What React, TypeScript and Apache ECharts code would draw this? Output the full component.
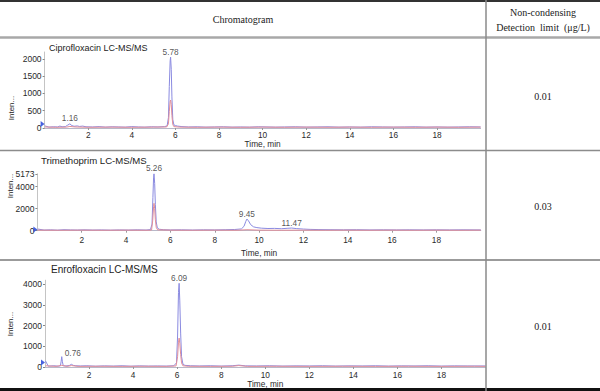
import React, { useEffect, useRef } from "react";
import * as echarts from "echarts";

// ---------- data ----------
const panelTitles = ["Ciprofloxacin LC-MS/MS", "Trimethoprim LC-MS/MS", "Enrofloxacin LC-MS/MS"];
const detectionLimits = ["0.01", "0.03", "0.01"];
const headerLeft = "Chromatogram";
const headerRight1 = "Non-condensing";
const headerRight2 = "Detection  limit  (\u03bcg/L)";
const xAxisName = "Time, min";
const yAxisName = "Inten...";

const ciproBlue: [number, number][] = [
  [0.02, 60], [0.2, 25], [0.4, 35], [0.6, 30], [0.7, 55], [0.8, 35], [0.95, 40], [1.05, 80], [1.16, 120],
  [1.25, 70], [1.35, 50], [1.5, 60], [1.6, 45], [1.75, 55], [1.9, 35], [2.2, 30], [2.5, 40], [2.8, 25],
  [3.1, 35], [3.4, 30], [3.7, 25], [4.0, 40], [4.3, 30], [4.6, 25], [4.9, 35], [5.2, 30], [5.5, 40],
  [5.62, 60], [5.68, 300], [5.72, 1200], [5.76, 1950], [5.78, 2050], [5.81, 1700], [5.84, 900], [5.88, 250],
  [5.93, 90], [6.0, 70], [6.1, 55], [6.3, 40], [6.6, 30], [7.0, 35], [7.4, 25], [7.8, 30], [8.2, 35],
  [8.6, 25], [9.0, 30], [9.4, 25], [9.8, 35], [10.2, 30], [10.6, 25], [11.0, 30], [11.5, 35], [12.0, 25],
  [12.5, 30], [13.0, 35], [13.5, 25], [14.0, 30], [14.5, 25], [15.0, 35], [15.5, 30], [16.0, 25], [16.5, 30],
  [17.0, 35], [17.5, 25], [18.0, 30], [18.5, 25], [19.0, 30], [19.5, 35], [20.0, 30],
];
const ciproRed: [number, number][] = [
  [0.02, 30], [0.5, 20], [1.0, 25], [1.16, 45], [1.4, 30], [2.0, 20], [3.0, 25], [4.0, 20], [5.0, 25],
  [5.6, 30], [5.68, 120], [5.72, 480], [5.76, 770], [5.78, 810], [5.81, 680], [5.84, 360], [5.88, 100],
  [5.93, 40], [6.2, 25], [7.0, 20], [8.0, 25], [9.0, 20], [10.0, 25], [11.0, 20], [12.0, 25], [13, 20],
  [14, 25], [15, 20], [16, 25], [17, 20], [18, 25], [19, 20], [20, 25],
];
const ciproPeaks: [number, number][] = [[1.16, 120], [5.78, 2050]];

const trimBlue: [number, number][] = [
  [0.02, 150], [0.3, 60], [0.6, 80], [0.9, 50], [1.2, 90], [1.5, 70], [1.8, 60], [2.1, 80], [2.5, 60],
  [2.9, 70], [3.3, 50], [3.7, 70], [4.1, 60], [4.5, 80], [4.9, 60], [5.1, 100], [5.17, 600], [5.21, 3000],
  [5.24, 4800], [5.26, 5173], [5.29, 4300], [5.32, 2400], [5.36, 800], [5.41, 250], [5.5, 130], [5.7, 90],
  [6.0, 70], [6.5, 80], [7.0, 60], [7.5, 80], [8.0, 70], [8.5, 90], [8.9, 110], [9.2, 160], [9.32, 400],
  [9.4, 850], [9.45, 1060], [9.52, 900], [9.62, 550], [9.75, 350], [9.9, 280], [10.1, 230], [10.4, 200],
  [10.7, 210], [11.0, 180], [11.3, 220], [11.47, 240], [11.7, 190], [12.0, 150], [12.3, 120], [12.7, 100],
  [13.2, 90], [13.8, 80], [14.4, 90], [15.0, 70], [15.6, 80], [16.2, 70], [16.8, 80], [17.4, 70], [18.0, 80],
  [18.6, 70], [19.2, 80], [20.0, 70],
];
const trimRed: [number, number][] = [
  [0.02, 50], [1, 40], [2, 50], [3, 40], [4, 50], [5, 40], [5.15, 60], [5.2, 900], [5.24, 2200], [5.26, 2490],
  [5.29, 2000], [5.32, 1000], [5.36, 300], [5.42, 80], [6, 50], [7, 40], [8, 50], [9, 40], [9.45, 90],
  [10, 50], [11, 40], [12, 50], [13, 40], [14, 50], [15, 40], [16, 50], [17, 40], [18, 50], [19, 40], [20, 50],
];
const trimPeaks: [number, number][] = [[5.26, 5173], [9.45, 1060], [11.47, 240]];

const enroBlue: [number, number][] = [
  [0.02, 300], [0.15, 40], [0.4, 60], [0.6, 40], [0.7, 60], [0.73, 250], [0.76, 500], [0.79, 250], [0.83, 60],
  [0.95, 50], [1.1, 70], [1.2, 130], [1.28, 80], [1.4, 60], [1.6, 50], [1.9, 60], [2.3, 40], [2.7, 55],
  [3.1, 45], [3.5, 60], [3.9, 40], [4.3, 55], [4.7, 45], [5.1, 50], [5.5, 45], [5.85, 60], [5.97, 200],
  [6.02, 1500], [6.06, 3600], [6.09, 4050], [6.12, 3200], [6.16, 1600], [6.2, 500], [6.26, 150], [6.35, 80],
  [6.6, 60], [7.0, 50], [7.5, 60], [8.0, 45], [8.5, 60], [8.8, 90], [9.1, 55], [9.6, 50], [10.2, 60],
  [10.8, 45], [11.4, 55], [12.0, 50], [12.6, 60], [13.2, 45], [13.8, 55], [14.4, 50], [15.0, 60], [15.6, 45],
  [16.2, 55], [16.8, 50], [17.4, 60], [18.0, 45], [18.6, 55], [19.2, 50], [20.0, 50],
];
const enroRed: [number, number][] = [
  [0.02, 60], [0.5, 30], [0.76, 80], [1.0, 30], [1.2, 70], [1.5, 30], [2.5, 35], [3.5, 30], [4.5, 35],
  [5.5, 30], [5.95, 50], [6.02, 500], [6.06, 1200], [6.09, 1400], [6.12, 1150], [6.16, 600], [6.2, 200],
  [6.26, 60], [6.5, 35], [7.5, 30], [8.5, 35], [8.8, 70], [9.2, 30], [10.5, 35], [12, 30], [13.5, 35],
  [15, 30], [16.5, 35], [18, 30], [19.5, 35], [20, 30],
];
const enroPeaks: [number, number][] = [[0.76, 500], [6.09, 4050]];

// start-marker (blue arrow) positions [time, intensity]
const startMarkers: [number, number][][] = [[[0, 115]], [[0, 100]], [[0, 220]]];

// axis settings per panel
const yMax = [2200, 5173, 4200];
const yInterval = [500, 2000, 1000];
const xMin = 0;
const xMax = 20;
const xInterval = 2;

// ---------- layout ----------
const NARROW = "'Liberation Sans Narrow', 'Arial Narrow', 'Liberation Sans', Arial, sans-serif";
const SANS = "'Liberation Sans', Arial, sans-serif";
const SERIF = "'Liberation Serif', 'Times New Roman', serif";
const BLUE = "#8a8ae0";
const RED = "#e28e98";

const grids = [
  { left: 44.6, right: 119.4, top: 52, bottom: 263 },
  { left: 37.4, right: 119.2, top: 173.8, bottom: 160.3 },
  { left: 45, right: 114.5, top: 280.2, bottom: 24 },
];
const xLabelMargin = [3, 5, 4];
const xNameGap = [12, 18, 11];
const titlePos = [
  { left: 49, top: 43.5, size: 9 },
  { left: 41, top: 155, size: 9.6 },
  { left: 51, top: 264.5, size: 10 },
];
const yNamePos = [
  { x: 11, y: 108 },
  { x: 10.5, y: 186 },
  { x: 10.5, y: 324 },
];
const limitY = [96, 206, 326];

export default function App() {
  const ref = useRef<HTMLDivElement>(null);
  useEffect(() => {
    if (!ref.current) return;
    const chart = echarts.init(ref.current, undefined, { renderer: "svg" });
    const blues = [ciproBlue, trimBlue, enroBlue];
    const reds = [ciproRed, trimRed, enroRed];
    const peaks = [ciproPeaks, trimPeaks, enroPeaks];

    const xAxes = grids.map((_, i) => ({
      type: "value",
      gridIndex: i,
      min: xMin,
      max: xMax,
      interval: xInterval,
      name: xAxisName,
      nameLocation: "middle",
      nameGap: xNameGap[i],
      nameTextStyle: { fontFamily: NARROW, fontSize: 8.3, color: "#2a2a2a" },
      axisLine: { show: true, onZero: false, lineStyle: { color: "#b8b8c8", width: 1 } },
      axisTick: { show: true, length: 2, lineStyle: { color: "#999" } },
      axisLabel: {
        fontFamily: NARROW,
        fontSize: 8.3,
        color: "#2a2a2a",
        margin: xLabelMargin[i],
        showMinLabel: false,
        showMaxLabel: false,
        formatter: (v: number) => String(v),
      },
      splitLine: { show: false },
    }));
    const yAxes = grids.map((_, i) => ({
      type: "value",
      gridIndex: i,
      min: 0,
      max: yMax[i],
      interval: yInterval[i],
      axisLine: { show: true, lineStyle: { color: "#c4c4c4", width: 1 } },
      axisTick: { show: true, length: 2, lineStyle: { color: "#888" } },
      axisLabel: {
        fontFamily: NARROW,
        fontSize: 8.5,
        color: "#2a2a2a",
        margin: 3,
        showMaxLabel: i === 1,
        formatter: (v: number) => String(v),
      },
      splitLine: { show: false },
    }));

    const series: any[] = [];
    grids.forEach((_, i) => {
      series.push({
        type: "line",
        xAxisIndex: i,
        yAxisIndex: i,
        data: blues[i],
        showSymbol: false,
        symbol: "none",
        lineStyle: { color: BLUE, width: 1 },
        z: 2,
      });
      series.push({
        type: "line",
        xAxisIndex: i,
        yAxisIndex: i,
        data: reds[i],
        showSymbol: false,
        symbol: "none",
        lineStyle: { color: RED, width: 1 },
        z: 3,
      });
      series.push({
        type: "scatter",
        xAxisIndex: i,
        yAxisIndex: i,
        clip: false,
        symbolSize: 0,
        data: peaks[i].map((p, k) =>
          i === 2 && k === 0
            ? { value: p, label: { position: "right", distance: 3, offset: [0, -4] } }
            : { value: p }
        ),
        label: {
          show: true,
          position: "top",
          distance: 1.5,
          fontFamily: NARROW,
          fontSize: 8.3,
          color: "#2a2a2a",
          formatter: (d: any) => d.value[0].toFixed(2),
        },
        z: 5,
      });
      series.push({
        type: "scatter",
        xAxisIndex: i,
        yAxisIndex: i,
        clip: false,
        data: startMarkers[i],
        symbol: "triangle",
        symbolRotate: -90,
        symbolSize: [6, 4],
        symbolOffset: [-2, 0],
        itemStyle: { color: "#1a3ad6" },
        z: 6,
      });
    });

    const line = (x1: number, y1: number, x2: number, y2: number, color: string, width: number) => ({
      type: "line",
      shape: { x1, y1, x2, y2 },
      style: { stroke: color, lineWidth: width },
      silent: true,
      z: 10,
    });
    const text = (x: number, y: number, t: string, font: string, extra: any = {}) => ({
      type: "text",
      x,
      y,
      style: {
        text: t,
        font,
        fill: "#222",
        align: "center",
        verticalAlign: "middle",
        textAlign: "center",
        textVerticalAlign: "middle",
      },
      silent: true,
      z: 10,
      ...extra,
    });

    const graphic: any[] = [
      line(0, 1, 600, 1, "#333", 2),
      line(0, 37.5, 600, 37.5, "#a8a8a8", 2.5),
      line(0, 150.5, 600, 150.5, "#8c8c8c", 1.5),
      line(0, 260, 600, 260, "#7a7a7a", 1.5),
      line(0, 389.5, 600, 389.5, "#111", 3),
      line(486, 0, 486, 391, "#8a8a8a", 1.5),
      text(243, 19.5, headerLeft, `10px ${SERIF}`),
      text(543, 12.5, headerRight1, `10px ${SERIF}`),
      text(543, 27.5, headerRight2, `10px ${SERIF}`),
      ...detectionLimits.map((v, i) => text(543, limitY[i], v, `10px ${SERIF}`)),
      ...yNamePos.map((p) =>
        text(p.x, p.y, yAxisName, `8px ${NARROW}`, { rotation: Math.PI / 2 })
      ),
    ];

    chart.setOption({
      animation: false,
      backgroundColor: "#fff",
      title: titlePos.map((t, i) => ({
        text: panelTitles[i],
        left: t.left,
        top: t.top,
        padding: 0,
        textStyle: { fontFamily: SANS, fontSize: t.size, fontWeight: "normal", color: "#222" },
      })),
      grid: grids.map((g) => ({ ...g, containLabel: false })),
      xAxis: xAxes,
      yAxis: yAxes,
      series,
      graphic,
    });
    return () => chart.dispose();
  }, []);
  return (
    <div
      ref={ref}
      style={{ position: "fixed", left: 0, top: 0, width: 600, height: 391, background: "#fff" }}
    />
  );
}
